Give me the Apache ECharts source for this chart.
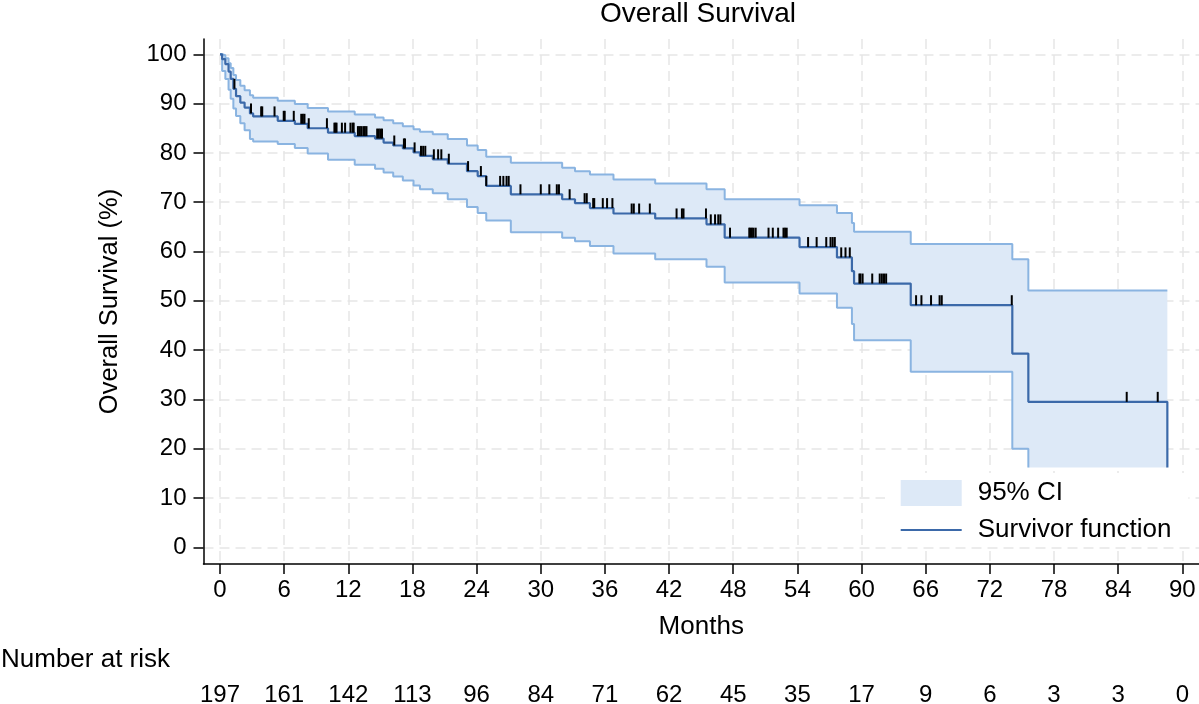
<!DOCTYPE html>
<html><head><meta charset="utf-8">
<script src="https://cdn.jsdelivr.net/npm/echarts@6/dist/echarts.min.js"></script>
<style>html,body{margin:0;padding:0;background:#fff}#c{width:1199px;height:704px}</style>
</head><body><div id="c"></div>
<script>
// Kaplan-Meier step data (months, %)
const stepTimes = [0, 0.2, 0.5, 0.8, 1.0, 1.25, 1.5, 1.9, 2.3, 2.8, 3.1, 5.4, 7.0, 8.2, 10.1, 12.6, 14.5, 15.3, 16.2, 17.1, 18.1, 18.7, 19.9, 21.3, 23.1, 24.1, 24.9, 27.2, 32.0, 33.2, 34.6, 36.8, 40.7, 45.5, 47.2, 54.2, 57.7, 59.1, 59.3, 64.6, 74.1, 75.6, 88.6];
const survival = [100, 99.0, 98.0, 96.5, 95.0, 93.0, 91.5, 90.2, 89.2, 88.0, 87.4, 86.5, 85.9, 85.0, 84.1, 83.4, 82.9, 82.1, 81.5, 80.9, 80.1, 79.4, 78.7, 77.8, 76.3, 75.3, 73.3, 71.6, 70.6, 69.8, 68.8, 67.7, 66.7, 65.5, 62.8, 60.9, 58.8, 56.0, 53.5, 49.1, 39.3, 29.5, 16.2];
const upperCI = [100, 99.8, 99.2, 98.2, 97.2, 95.8, 94.8, 93.6, 92.7, 91.7, 91.2, 90.6, 89.9, 89.1, 88.4, 87.8, 87.2, 86.6, 86.0, 85.4, 84.8, 84.3, 83.8, 82.8, 81.5, 80.6, 79.2, 78.0, 77.0, 76.3, 75.6, 74.6, 73.8, 72.6, 70.6, 69.4, 67.8, 65.8, 64.0, 61.5, 58.4, 52.1, 52.1];
const lowerCI = [100, 96.6, 95.0, 92.8, 91.0, 89.0, 87.5, 86.0, 84.6, 82.8, 82.3, 81.8, 81.0, 79.9, 78.6, 77.6, 76.8, 76.0, 75.2, 74.4, 73.4, 72.6, 71.8, 70.6, 69.0, 67.8, 66.3, 63.9, 62.8, 62.1, 61.1, 59.6, 58.4, 56.9, 53.7, 51.5, 48.6, 45.3, 42.0, 35.6, 20.0, 16.2, 16.2];
// censoring times (months)
const censorTimes = [1.35, 2.9, 3.85, 3.95, 5.1, 5.96, 6.05, 6.9, 7.6, 7.75, 7.9, 8.3, 10.0, 10.7, 10.8, 10.9, 11.4, 11.7, 12.2, 12.4, 12.5, 12.9, 13.05, 13.2, 13.4, 13.55, 13.7, 14.7, 14.85, 15.0, 15.15, 16.3, 17.2, 17.3, 18.2, 18.8, 19.0, 19.2, 20.0, 20.4, 20.7, 21.4, 23.2, 24.4, 24.9, 26.2, 26.5, 26.8, 27.0, 28.1, 30.0, 30.8, 31.5, 31.7, 32.7, 34.1, 34.3, 34.9, 35.0, 35.8, 36.2, 36.7, 38.5, 38.7, 39.2, 40.2, 42.7, 43.2, 43.35, 45.45, 45.9, 46.3, 46.6, 46.8, 47.7, 49.5, 49.6, 49.75, 49.9, 50.1, 51.3, 51.7, 52.2, 52.7, 52.85, 53.0, 55.0, 55.8, 56.7, 57.1, 57.3, 57.5, 58.1, 58.5, 58.9, 59.8, 59.9, 60.1, 61.0, 61.7, 61.9, 62.1, 62.3, 65.1, 65.6, 66.5, 67.3, 67.5, 74.05, 84.8, 87.7];
const xTicks = [0, 6, 12, 18, 24, 30, 36, 42, 48, 54, 60, 66, 72, 78, 84, 90];
const yTicks = [0, 10, 20, 30, 40, 50, 60, 70, 80, 90, 100];
const atRisk = [197, 161, 142, 113, 96, 84, 71, 62, 45, 35, 17, 9, 6, 3, 3, 0];

const FONT = '"Liberation Sans", Arial, Helvetica, sans-serif';
const C_SURV = '#3b69a9', C_CI = '#8ab4e1', C_FILL = '#dde9f7';

function survAt(t) {
  let v = survival[0];
  for (let i = 0; i < stepTimes.length; i++) if (stepTimes[i] <= t) v = survival[i];
  return v;
}
const zip = (a, b) => a.map((v, i) => [v, b[i]]);

const chart = echarts.init(document.getElementById('c'), null, { renderer: 'canvas' });
const gridLine = { show: true, lineStyle: { color: '#e6e6e6', width: 1.5, type: [10, 6] } };
chart.setOption({
  animation: false,
  textStyle: { fontFamily: FONT },
  title: { text: 'Overall Survival', left: 600, top: 0, padding: 0,
    textStyle: { fontSize: 28, fontWeight: 'normal', color: '#000', fontFamily: FONT } },
  grid: { left: 203.5, right: 0, top: 39, bottom: 140, containLabel: false, outerBoundsMode: 'none' },
  legend: {
    orient: 'vertical', left: 885, top: 473, padding: [7, 17, 4, 15.7],
    itemWidth: 61, itemHeight: 26, itemGap: 11, backgroundColor: '#fff', selectedMode: false,
    textStyle: { fontSize: 26, color: '#000', fontFamily: FONT, padding: [0, 0, 0, 11] },
    data: [
      { name: '95% CI', icon: 'rect', itemStyle: { color: C_FILL, borderWidth: 0 } },
      { name: 'Survivor function', icon: 'path://M0,0M61,26M0,12H61V14H0Z',
        itemStyle: { color: C_SURV, borderWidth: 0 } }
    ]
  },
  graphic: [{ type: 'text', left: 1, top: 647,
    style: { text: 'Number at risk', fontSize: 26, fill: '#000', fontFamily: FONT } }],
  xAxis: [{
    type: 'value', min: -1.543, max: 91.56, position: 'bottom',
    axisLine: { show: true, onZero: false, lineStyle: { color: '#000', width: 1.5 } },
    axisTick: { show: true, length: 10, customValues: xTicks, lineStyle: { color: '#000', width: 1.5 } },
    axisLabel: { customValues: xTicks, fontSize: 24, color: '#000', margin: 14, fontFamily: FONT },
    splitLine: gridLine,
    name: 'Months', nameLocation: 'middle', nameGap: 50, nameMoveOverlap: false,
    nameTextStyle: { fontSize: 26, color: '#000', fontFamily: FONT }
  }, {
    type: 'value', min: -1.543, max: 91.56, position: 'bottom', offset: 112,
    axisLine: { show: false }, axisTick: { show: false }, splitLine: { show: false },
    axisLabel: { customValues: xTicks, fontSize: 24, color: '#000', margin: 7, fontFamily: FONT,
      formatter: v => String(atRisk[Math.round(v / 6)]) }
  }],
  yAxis: {
    type: 'value', min: -3.39, max: 103.1,
    axisLine: { show: true, onZero: false, lineStyle: { color: '#000', width: 1.5 } },
    axisTick: { show: true, length: 10, customValues: yTicks, lineStyle: { color: '#000', width: 1.5 } },
    axisLabel: { customValues: yTicks, fontSize: 24, color: '#000', margin: 17, fontFamily: FONT },
    splitLine: gridLine,
    name: 'Overall Survival (%)', nameLocation: 'middle', nameGap: 81, nameRotate: 90, nameMoveOverlap: false,
    nameTextStyle: { fontSize: 25.5, color: '#000', fontFamily: FONT }
  },
  series: [
    {
      name: '95% CI', type: 'custom', silent: true, itemStyle: { color: C_FILL }, data: [[0, 0]],
      encode: { x: 0, y: 1 }, z: 1,
      renderItem: (params, api) => {
        const n = stepTimes.length, pts = [];
        for (let i = 0; i < n; i++) {
          const t1 = i + 1 < n ? stepTimes[i + 1] : stepTimes[i];
          pts.push(api.coord([stepTimes[i], upperCI[i]]));
          pts.push(api.coord([t1, upperCI[i]]));
        }
        for (let i = n - 1; i >= 0; i--) {
          const t1 = i + 1 < n ? stepTimes[i + 1] : stepTimes[i];
          pts.push(api.coord([t1, lowerCI[i]]));
          pts.push(api.coord([stepTimes[i], lowerCI[i]]));
        }
        return { type: 'polygon', shape: { points: pts }, style: { fill: C_FILL } };
      }
    },
    { name: 'upperCI', type: 'line', step: 'end', symbol: 'none', silent: true, z: 2,
      data: zip(stepTimes, upperCI), lineStyle: { color: C_CI, width: 2 } },
    { name: 'lowerCI', type: 'line', step: 'end', symbol: 'none', silent: true, z: 2,
      data: zip(stepTimes, lowerCI).slice(0, -1), lineStyle: { color: C_CI, width: 2 } },
    { name: 'Survivor function', type: 'line', step: 'end', symbol: 'none', silent: true, z: 3,
      data: zip(stepTimes, survival), lineStyle: { color: C_SURV, width: 2.2 }, itemStyle: { color: C_SURV } },
    {
      name: 'censored', type: 'custom', silent: true, z: 4,
      data: censorTimes.map(t => [t, survAt(t)]), encode: { x: 0, y: 1 },
      renderItem: (params, api) => {
        const p = api.coord([api.value(0), api.value(1)]);
        return { type: 'line', shape: { x1: p[0], y1: p[1], x2: p[0], y2: p[1] - 10 },
          style: { stroke: '#000', lineWidth: 2 } };
      }
    }
  ]
});
</script></body></html>
